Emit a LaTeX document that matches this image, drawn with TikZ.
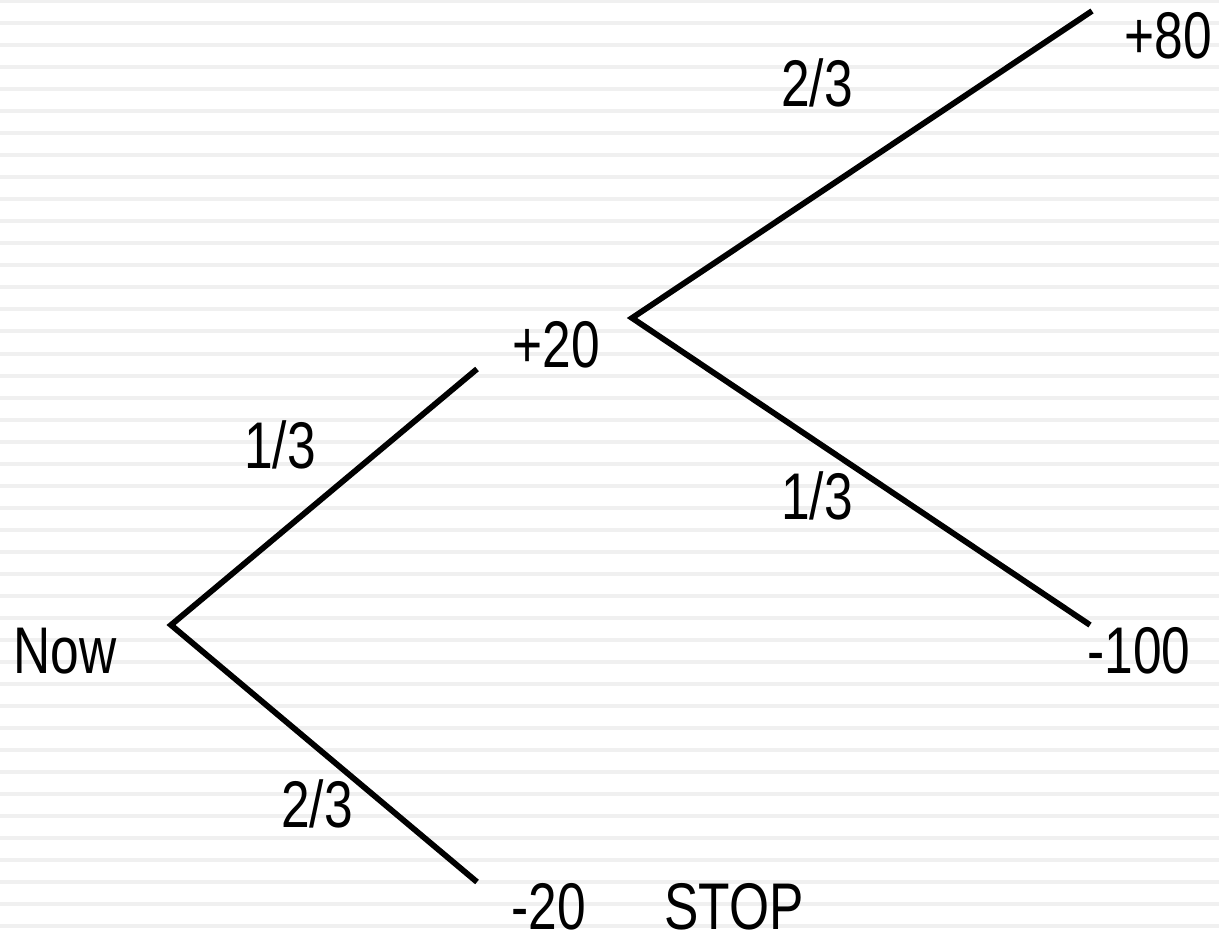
\documentclass[tikz,border=0pt]{standalone}
\usepackage{fontspec}
\setmainfont{Liberation Sans}[FakeStretch=0.78]
\usetikzlibrary{positioning}
\tikzset{
  branch/.style={
    draw=black,
    line width=2.9pt,
    line join=miter
  },
  prob/.style={
    anchor=base,
    inner sep=0pt,
    font=\fontsize{33}{40}\selectfont
  },
  payoff/.style={
    anchor=base,
    inner sep=0pt,
    font=\fontsize{33}{40}\selectfont
  },
  stripe/.style={
    draw=black!6,
    line width=2pt
  }
}
\begin{document}
\begin{tikzpicture}[x=0.5pt,y=-0.5pt]
    \useasboundingbox (0,0) rectangle (1219,935);
    \foreach \k in {0,...,42}
      \draw[stripe] (0,{1.5+22*\k}) -- (1219,{1.5+22*\k});
    % decision points
    \coordinate (now) at (171,625);
    \coordinate (up) at (477,369);
    \coordinate (down) at (477,882);
    \coordinate (mid) at (632,318);
    \coordinate (win) at (1092,11);
    \coordinate (lose) at (1090,625);
    \draw[branch] (up) -- (now) -- (down);
    \draw[branch] (win) -- (mid) -- (lose);
    % values
    \node[payoff] (nowtext) at (65,673) {Now};
    \node[payoff] (plustwenty) at (556,367) {+20};
    \node[payoff] (minustwenty) at (549,929) {-20};
    \node[payoff] (stop) at (734,929) {STOP};
    \node[payoff] (pluseighty) at (1168,59) {+80};
    \node[payoff] (minushundred) at (1139,673) {-100};
    % probabilities
    \node[prob] (pup) at (280,468) {1/3};
    \node[prob] (pdown) at (317,827) {2/3};
    \node[prob] (pwin) at (817,107) {2/3};
    \node[prob] (plose) at (817,519) {1/3};
\end{tikzpicture}
\end{document}
